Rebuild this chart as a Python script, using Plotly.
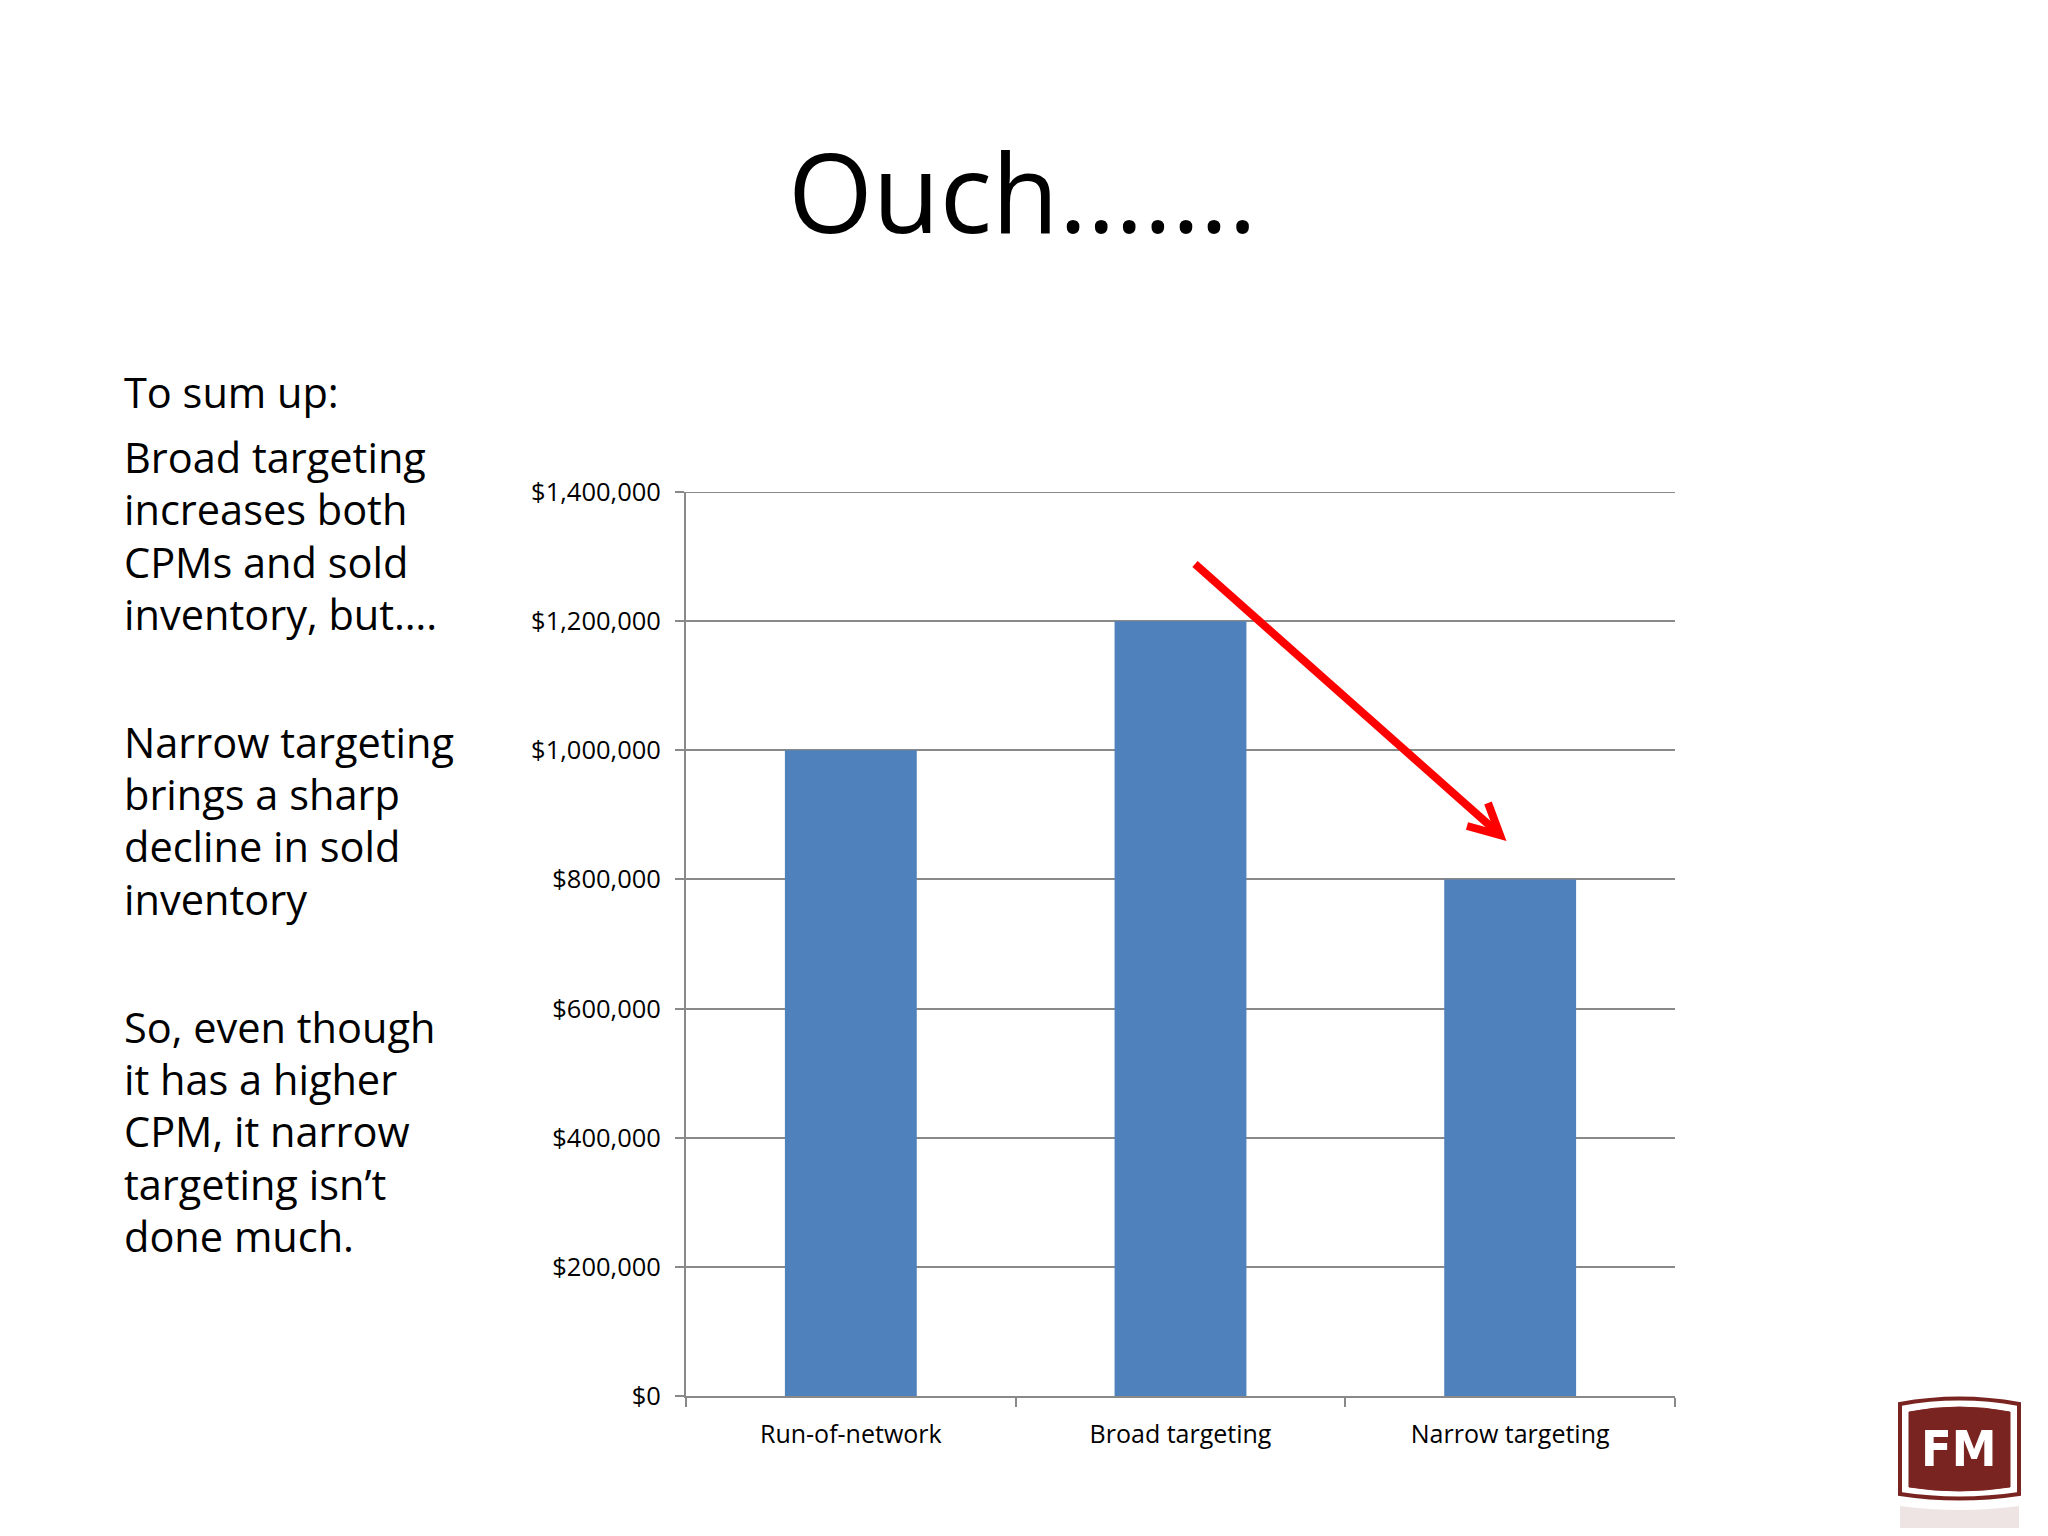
import plotly.graph_objects as go

# ---------------- data ----------------
categories = ["Run-of-network", "Broad targeting", "Narrow targeting"]
values = [1000000, 1200000, 800000]
y_tickvals = [0, 200000, 400000, 600000, 800000, 1000000, 1200000, 1400000]
y_max = 1400000
title_text = "Ouch……."
side_lines = [
    "To sum up:",
    "Broad targeting", "increases both", "CPMs and sold", "inventory, but….",
    "Narrow targeting", "brings a sharp", "decline in sold", "inventory",
    "So, even though", "it has a higher", "CPM, it narrow", "targeting isn’t", "done much.",
]
logo_text = "FM"

# ---------------- layout geometry (page pixels) ----------------
OFF = 8                      # default body margin of the html page
W, H = 2048 - 2 * OFF, 1536 - 2 * OFF
PL, PR, PT, PB = 686, 1675, 492, 1396

def paper(x, y):
    return ((x - PL) / (PR - PL), (PB - y) / (PB - PT))

FONT = "Open Sans, Noto Sans, sans-serif"
GRID = "#898989"
BAR = "#4F81BD"
RED = "#FF0000"
LOGO = "#7A2421"

fig = go.Figure()
fig.add_trace(go.Bar(x=categories, y=values, marker=dict(color=BAR, line=dict(width=0)),
                     hoverinfo="skip"))

annotations = []
# title
tx, ty = paper(1022, 190)
annotations.append(dict(text=title_text, x=tx, y=ty, xref="paper", yref="paper",
                        xanchor="center", yanchor="middle", showarrow=False,
                        font=dict(family=FONT, size=109, color="#000000")))
# side text
line_y = [392, 457, 509, 562, 614, 742, 794, 846, 899, 1027, 1079, 1131, 1184, 1236]
for txt, yy in zip(side_lines, line_y):
    ax_, ay_ = paper(122, yy)
    annotations.append(dict(text=txt, x=ax_, y=ay_, xref="paper", yref="paper",
                            xanchor="left", yanchor="middle", showarrow=False,
                            font=dict(family=FONT, size=41.5, color="#000000")))
# logo text
lx, ly = paper(1959, 1449)
annotations.append(dict(text="<b>%s</b>" % logo_text, x=lx, y=ly, xref="paper", yref="paper",
                        xanchor="center", yanchor="middle", showarrow=False,
                        font=dict(family="Liberation Sans Narrow, DejaVu Sans Condensed, sans-serif",
                                  size=50, color="#FFFFFF")))

def P(x, y):
    a, b = paper(x, y)
    return "%.5f,%.5f" % (a, b)

shapes = []
# top gridline (at the edge of the range)
shapes.append(dict(type="line", xref="paper", yref="y", x0=0, x1=1, y0=y_max, y1=y_max,
                   layer="below", line=dict(color=GRID, width=2)))
# red arrow
shapes.append(dict(type="path", xref="paper", yref="paper", layer="above",
                   path="M %s L %s" % (P(1195, 564), P(1497, 832)),
                   line=dict(color=RED, width=8)))
shapes.append(dict(type="path", xref="paper", yref="paper", layer="above",
                   path="M %s L %s L %s" % (P(1467, 826), P(1500, 835), P(1488, 803)),
                   line=dict(color=RED, width=8)))
# logo badge
shapes.append(dict(type="path", xref="paper", yref="paper", layer="above",
                   path="M %s Q %s %s L %s Q %s %s Z" % (P(1900, 1404), P(1959, 1393), P(2019, 1404),
                                                         P(2019, 1494), P(1959, 1503), P(1900, 1494)),
                   fillcolor="#FFFFFF", line=dict(color=LOGO, width=4)))
shapes.append(dict(type="path", xref="paper", yref="paper", layer="above",
                   path="M %s Q %s %s L %s Q %s %s Z" % (P(1909, 1412), P(1959, 1402), P(2010, 1412),
                                                         P(2010, 1487), P(1959, 1495), P(1909, 1487)),
                   fillcolor=LOGO, line=dict(color=LOGO, width=1)))
# faint reflection
shapes.append(dict(type="path", xref="paper", yref="paper", layer="above",
                   path="M %s Q %s %s L %s L %s Z" % (P(1900, 1506), P(1959, 1514), P(2019, 1506),
                                                    P(2019, 1536), P(1900, 1536)),
                   fillcolor=LOGO, opacity=0.12, line=dict(width=0)))

fig.update_layout(
    width=W, height=H,
    margin=dict(l=PL - OFF, r=W - (PR - OFF), t=PT - OFF, b=H - (PB - OFF), pad=0),
    paper_bgcolor="#FFFFFF", plot_bgcolor="#FFFFFF",
    showlegend=False, bargap=0.6,
    annotations=annotations, shapes=shapes,
    xaxis=dict(type="category", showgrid=False, showline=True, linecolor=GRID, linewidth=2,
               ticks="outside", tickson="boundaries", ticklen=9, tickwidth=2, tickcolor=GRID,
               ticklabelstandoff=15,
               tickfont=dict(family=FONT, size=25, color="#000000"), zeroline=False, fixedrange=True),
    yaxis=dict(range=[0, y_max], tickvals=y_tickvals, tickformat="$,.0f",
               showgrid=True, gridcolor=GRID, gridwidth=2,
               showline=True, linecolor=GRID, linewidth=2,
               ticks="outside", ticklen=9, tickwidth=2, tickcolor=GRID,
               ticklabelstandoff=9,
               tickfont=dict(family=FONT, size=25.5, color="#000000"), zeroline=False, fixedrange=True),
    font=dict(family=FONT),
)

fig.write_html("out.html", config={"displayModeBar": False})
